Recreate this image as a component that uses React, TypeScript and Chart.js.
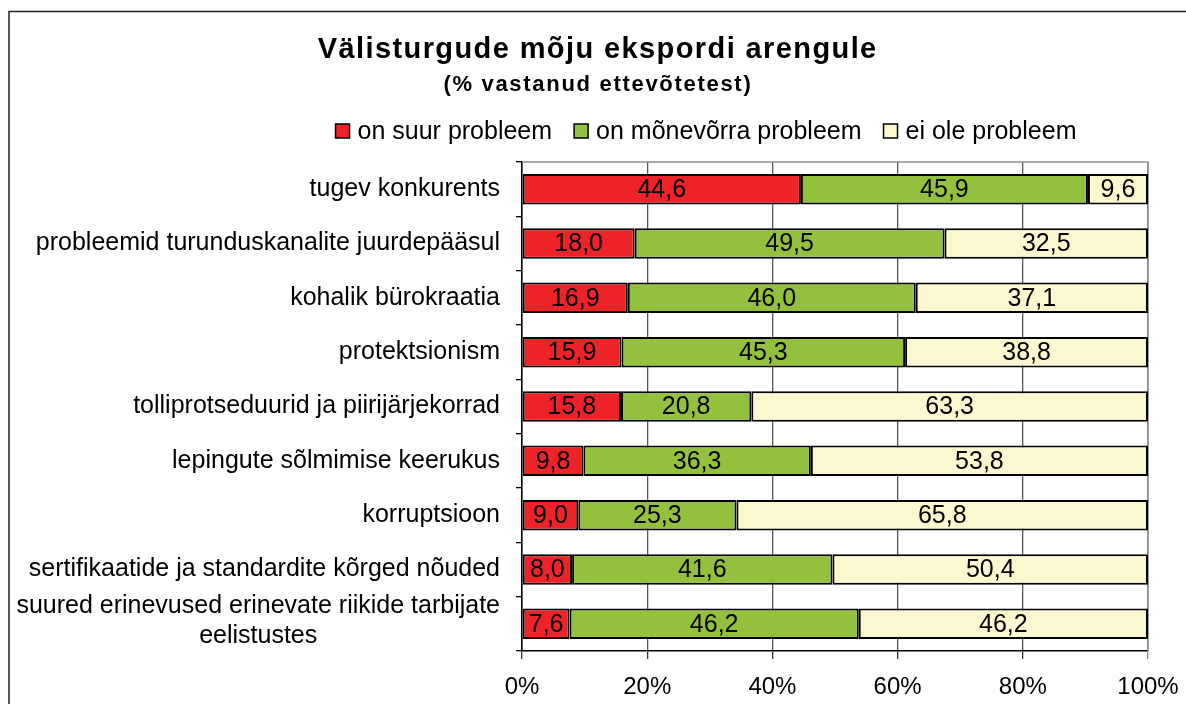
import React, { useEffect, useRef } from "react";
import { Chart, registerables } from "chart.js";

Chart.register(...registerables);

const titleText = "Välisturgude mõju ekspordi arengule";
const subtitleText = "(% vastanud ettevõtetest)";

const categories: string[][] = [
  ["tugev konkurents"],
  ["probleemid turunduskanalite juurdepääsul"],
  ["kohalik bürokraatia"],
  ["protektsionism"],
  ["tolliprotseduurid ja piirijärjekorrad"],
  ["lepingute sõlmimise keerukus"],
  ["korruptsioon"],
  ["sertifikaatide ja standardite kõrged nõuded"],
  ["suured erinevused erinevate riikide tarbijate", "eelistustes"],
];

const seriesNames = ["on suur probleem", "on mõnevõrra probleem", "ei ole probleem"];

const suurProbleem = [44.6, 18.0, 16.9, 15.9, 15.8, 9.8, 9.0, 8.0, 7.6];
const monevorraProbleem = [45.9, 49.5, 46.0, 45.3, 20.8, 36.3, 25.3, 41.6, 46.2];
const eiOleProbleem = [9.6, 32.5, 37.1, 38.8, 63.3, 53.8, 65.8, 50.4, 46.2];

const xTickValues = [0, 20, 40, 60, 80, 100];

const seriesColors = ["#ED2327", "#93C13D", "#FBF7CE"];

const FONT = '"Liberation Sans", Arial, Helvetica, sans-serif';

const rawSeries = [suurProbleem, monevorraProbleem, eiOleProbleem];
const totals = categories.map((_, i) => rawSeries.reduce((s, arr) => s + arr[i], 0));

const fmt = (v: number) => v.toFixed(1).replace(".", ",");

const framePlugin = {
  id: "frame",
  beforeDraw(chart: any) {
    const ctx = chart.ctx;
    ctx.save();
    ctx.fillStyle = "#fff";
    ctx.fillRect(0, 0, chart.width, chart.height);
    ctx.strokeStyle = "#222";
    ctx.lineWidth = 1.5;
    ctx.beginPath();
    ctx.moveTo(9, chart.height + 5);
    ctx.lineTo(9, 11.5);
    ctx.lineTo(chart.width + 5, 11.5);
    ctx.stroke();
    ctx.restore();
  },
  beforeDatasetsDraw(chart: any) {
    const { ctx, chartArea } = chart;
    ctx.save();
    ctx.strokeStyle = "#8c8c8c";
    ctx.lineWidth = 1.5;
    ctx.beginPath();
    ctx.moveTo(chartArea.left, chartArea.top);
    ctx.lineTo(chartArea.right, chartArea.top);
    ctx.lineTo(chartArea.right, chartArea.bottom);
    ctx.stroke();
    ctx.restore();
  },
};

const textPlugin = {
  id: "texts",
  afterDatasetsDraw(chart: any) {
    const ctx = chart.ctx;
    ctx.save();
    ctx.font = `25px ${FONT}`;
    ctx.fillStyle = "#000";
    ctx.textAlign = "center";
    ctx.textBaseline = "middle";
    chart.data.datasets.forEach((ds: any, d: number) => {
      const meta = chart.getDatasetMeta(d);
      meta.data.forEach((el: any, i: number) => {
        const cx = (el.x + el.base) / 2;
        ctx.fillText(fmt(rawSeries[d][i]), cx, el.y + 1);
      });
    });
    ctx.restore();
  },
  afterDraw(chart: any) {
    const ctx = chart.ctx;
    const cx = 597;
    ctx.save();
    ctx.fillStyle = "#000";
    ctx.textAlign = "center";
    ctx.textBaseline = "alphabetic";
    // Title
    ctx.font = `bold 29px ${FONT}`;
    (ctx as any).letterSpacing = "1.4px";
    ctx.fillText(titleText, cx + 0.7, 58);
    ctx.font = `bold 22px ${FONT}`;
    (ctx as any).letterSpacing = "1.7px";
    ctx.fillText(subtitleText, cx + 0.9, 91);
    (ctx as any).letterSpacing = "0px";

    // Legend
    ctx.font = `25px ${FONT}`;
    const box = 14;
    const gapBoxText = 8;
    const gapItems = 22;
    const widths = chart.data.datasets.map((ds: any) => ctx.measureText(ds.label).width);
    const total =
      widths.reduce((s: number, w: number) => s + w, 0) +
      widths.length * (box + gapBoxText) +
      (widths.length - 1) * gapItems;
    let x = 706 - total / 2;
    const ly = 131;
    ctx.textAlign = "left";
    ctx.textBaseline = "middle";
    chart.data.datasets.forEach((ds: any, d: number) => {
      ctx.fillStyle = ds.backgroundColor;
      ctx.fillRect(x, ly - box / 2, box, box);
      ctx.strokeStyle = "#000";
      ctx.lineWidth = 1.5;
      ctx.strokeRect(x, ly - box / 2, box, box);
      ctx.fillStyle = "#000";
      ctx.fillText(ds.label, x + box + gapBoxText, ly + 1);
      x += box + gapBoxText + widths[d] + gapItems;
    });

    // Y category labels
    const yScale = chart.scales.y;
    const right = yScale.right - 22;
    const lineH = 30;
    chart.data.labels.forEach((lab: any, i: number) => {
      const lines: string[] = Array.isArray(lab) ? lab : [lab];
      const yc = yScale.getPixelForTick(i);
      const maxW = Math.max(...lines.map((l) => ctx.measureText(l).width));
      const blockCenter = right - maxW / 2;
      lines.forEach((l, k) => {
        if (lines.length === 1) {
          ctx.textAlign = "right";
          ctx.fillText(l, right, yc);
        } else {
          const ly2 = yc - 3 + (k - (lines.length - 1) / 2) * lineH;
          ctx.textAlign = "center";
          ctx.fillText(l, blockCenter, ly2);
        }
      });
    });
    ctx.restore();
  },
};

export default function App() {
  const canvasRef = useRef<HTMLCanvasElement | null>(null);

  useEffect(() => {
    if (!canvasRef.current) return;
    const datasets = seriesNames.map((name, d) => ({
      label: name,
      data: rawSeries[d].map((v, i) => (v / totals[i]) * 100),
      backgroundColor: seriesColors[d],
      borderColor: "#000",
      borderWidth: 2,
      borderSkipped: false,
      barPercentage: 0.56,
      categoryPercentage: 1,
    }));

    const chart = new Chart(canvasRef.current, {
      type: "bar",
      data: { labels: categories as any, datasets },
      options: {
        indexAxis: "y",
        animation: false,
        responsive: false,
        devicePixelRatio: 1,
        layout: { padding: { top: 162, right: 38, left: 0, bottom: 2 } },
        plugins: {
          legend: { display: false },
          title: { display: false },
          tooltip: { enabled: false },
        },
        scales: {
          x: {
            stacked: true,
            min: 0,
            max: 100,
            afterBuildTicks: (scale: any) => {
              scale.ticks = xTickValues.map((v) => ({ value: v }));
            },
            afterFit: (scale: any) => {
              scale.height = 51;
              scale.paddingRight = 0;
              scale.paddingLeft = 0;
            },
            ticks: {
              callback: (v: any) => `${v}%`,
              font: { size: 24, family: FONT },
              color: "#000",
              padding: 14,
              maxRotation: 0,
            },
            grid: {
              color: (c: any) => (c.tick && c.tick.value === 100 ? "#8c8c8c" : "#555"),
              lineWidth: 1.3,
              drawTicks: true,
              tickLength: 8,
              tickColor: (c: any) => (c.tick && c.tick.value === 100 ? "#8c8c8c" : "#333"),
            },
            border: { display: true, color: "#000", width: 1.5 },
          },
          y: {
            stacked: true,
            afterFit: (scale: any) => {
              scale.width = 522;
            },
            ticks: { display: false },
            grid: {
              offset: true,
              drawOnChartArea: false,
              drawTicks: true,
              tickLength: 6,
              color: "#000",
              lineWidth: 1.3,
            },
            border: { display: true, color: "#000", width: 1.5 },
          },
        },
      },
      plugins: [framePlugin, textPlugin],
    });
    return () => chart.destroy();
  }, []);

  return (
    <div style={{ position: "fixed", left: 0, top: 0, width: 1186, height: 704, background: "#fff" }}>
      <canvas ref={canvasRef} width={1186} height={704} style={{ display: "block" }} />
    </div>
  );
}
